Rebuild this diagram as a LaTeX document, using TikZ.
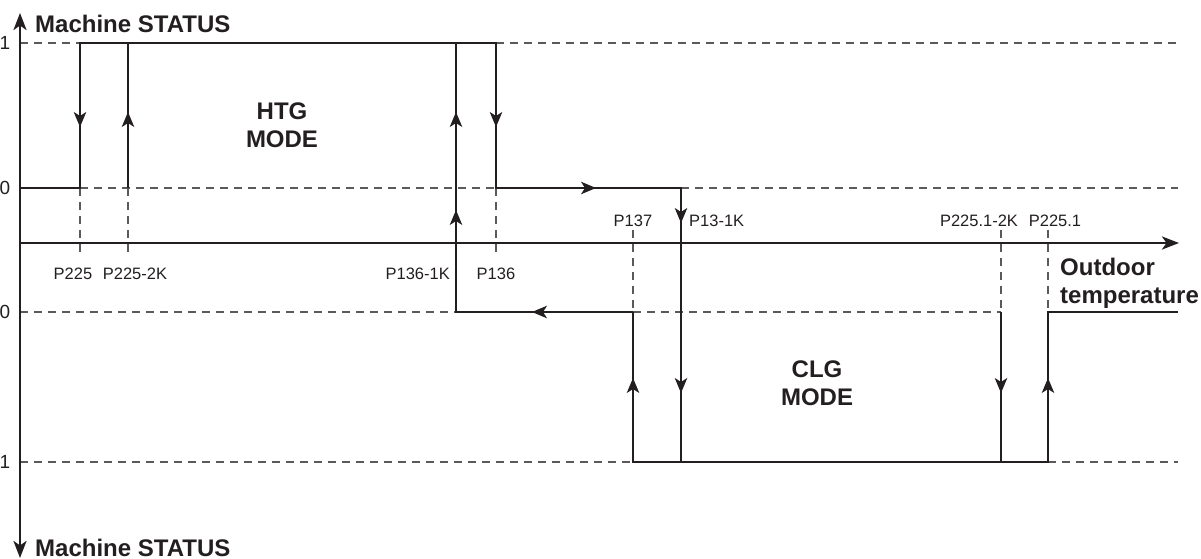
\documentclass[tikz,border=0pt]{standalone}
\usepackage{fontspec}
\setmainfont{Liberation Sans}
\usetikzlibrary{arrows.meta}
\definecolor{ink}{HTML}{231F20}
\definecolor{guidegray}{HTML}{5A5A5C}
\begin{document}
\begin{tikzpicture}[x=1pt,y=-1pt,
  axtip/.tip={Stealth[length=17pt,width=13pt,inset=4.5pt]},
  axis/.style={line width=2.8pt, draw=ink},
  curve/.style={line width=2pt, draw=ink, line join=miter},
  guide/.style={line width=1.2pt, draw=guidegray, dash pattern=on 8pt off 6pt},
  tipmark/.style={line width=1.2pt, draw=ink, fill=ink, -{Stealth[length=15pt,width=12.5pt,inset=4pt]}},
  big/.style={font=\fontsize{24}{28}\selectfont\bfseries, inner sep=0pt, text=ink},
  small/.style={font=\fontsize{16.5}{20}\selectfont, inner sep=0pt, text=ink},
  lvl/.style={font=\fontsize{19}{22}\selectfont, inner sep=0pt, text=ink}]
\useasboundingbox (0,0) rectangle (1201,559);

\coordinate (o) at (20,243);
% dashed guides
\draw[guide] (20,43) -- (80,43);
\draw[guide] (496,43) -- (1178,43);
\draw[guide] (80,188) -- (496,188);
\draw[guide] (681,188) -- (1178,188);
\draw[guide] (20,312) -- (456,312);
\draw[guide] (633,312) -- (1001,312);
\draw[guide] (20,462) -- (633,462);
\draw[guide] (1048,462) -- (1178,462);
\draw[guide] (80,188) -- (80,257);
\draw[guide] (128,188) -- (128,257);
\draw[guide] (496,188) -- (496,257);
\draw[guide] (633,230) -- (633,312);
\draw[guide] (1001,230) -- (1001,312);
\draw[guide] (1048,230) -- (1048,312);

% axes
\draw[axis, axtip-axtip] (20,558) -- (20,13);
\draw[axis, -axtip] (o) -- (1179,243);

% solid hysteresis curves
\draw[curve] (20,188) -- (80,188) -- (80,43) -- (496,43) -- (496,188) -- (681,188) -- (681,462);
\draw[curve] (128,188) -- (128,43);
\draw[curve] (456,43) -- (456,312) -- (633,312);
\draw[curve] (633,312) -- (633,462) -- (1048,462) -- (1048,312) -- (1178,312);
\draw[curve] (1001,312) -- (1001,462);

% arrow heads along the curves
\draw[tipmark] (80,108) -- (80,127);
\draw[tipmark] (128,131) -- (128,112);
\draw[tipmark] (456,131) -- (456,112);
\draw[tipmark] (456,229) -- (456,210);
\draw[tipmark] (496,108) -- (496,127);
\draw[tipmark] (577,188) -- (596,188);
\draw[tipmark] (681,204) -- (681,223);
\draw[tipmark] (551,312) -- (532,312);
\draw[tipmark] (633,397) -- (633,378);
\draw[tipmark] (681,374) -- (681,393);
\draw[tipmark] (1001,374) -- (1001,393);
\draw[tipmark] (1048,397) -- (1048,378);

% level labels
\node[lvl] (l1a) at (5,43) {1};
\node[lvl] (l0a) at (5,188) {0};
\node[lvl] (l0b) at (5,312) {0};
\node[lvl] (l1b) at (5,462) {1};

% titles
\node[big, anchor=base west] (ytop) at (35,33) {Machine STATUS};
\node[big, anchor=base west] (ybot) at (35,556) {Machine STATUS};
\node[big, anchor=base west, align=left] (xlab) at (1060,303) {Outdoor\\temperature};
\node[big, align=center] (htg) at (282,125) {HTG\\MODE};
\node[big, align=center] (clg) at (817,383) {CLG\\MODE};

% threshold labels
\node[small, anchor=base] (p225) at (73,279) {P225};
\node[small, anchor=base] (p2252k) at (135,279) {P225-2K};
\node[small, anchor=base east] (p1361k) at (450,279) {P136-1K};
\node[small, anchor=base] (p136) at (496,279) {P136};
\node[small, anchor=base] (p137) at (633,226) {P137};
\node[small, anchor=base west] (p131k) at (689,226) {P13-1K};
\node[small, anchor=base] (p22512k) at (979,226) {P225.1-2K};
\node[small, anchor=base] (p2251) at (1055,226) {P225.1};
\end{tikzpicture}
\end{document}
